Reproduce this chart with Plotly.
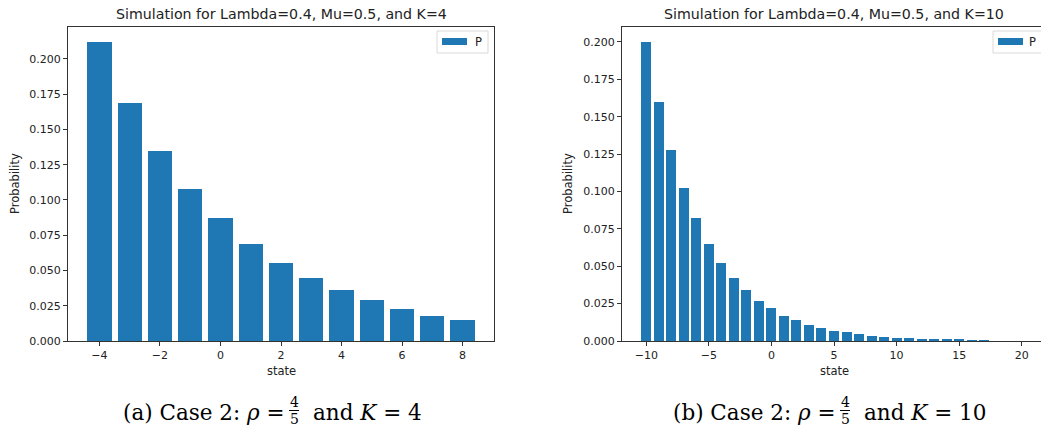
import plotly.graph_objects as go

# ---------------- data ----------------
states_k4 = list(range(-4, 9))
prob_k4 = [0.212, 0.169, 0.135, 0.108, 0.087, 0.069, 0.055, 0.045, 0.036,
           0.029, 0.023, 0.018, 0.015]

states_k10 = list(range(-10, 21))
prob_k10 = [0.200, 0.160, 0.128, 0.102, 0.082, 0.065, 0.052, 0.042, 0.034,
            0.027, 0.022, 0.017, 0.014, 0.011, 0.009, 0.007, 0.006, 0.0045,
            0.0036, 0.0029, 0.0023, 0.0018, 0.0015, 0.0012, 0.0009, 0.0008,
            0.0006, 0.0005, 0.0, 0.0, 0.0]

title_k4 = "Simulation for Lambda=0.4, Mu=0.5, and K=4"
title_k10 = "Simulation for Lambda=0.4, Mu=0.5, and K=10"
series_name = "P"
x_label = "state"
y_label = "Probability"

xticks_k4 = [-4, -2, 0, 2, 4, 6, 8]
xticks_k10 = [-10, -5, 0, 5, 10, 15, 20]
yticks_k4 = [0.0, 0.025, 0.05, 0.075, 0.1, 0.125, 0.15, 0.175, 0.2]
yticks_k10 = [0.0, 0.025, 0.05, 0.075, 0.1, 0.125, 0.15, 0.175, 0.2]

# ---------------- layout helpers ----------------
W, H = 1041, 436
BLUE = "#1f77b4"
AX = "#333333"
TXT = "#222222"
SANS = "DejaVu Sans"
SERIF = "DejaVu Serif"


def px(x):
    return x / W


def py(y):
    return 1 - y / H


def tick_text(vals):
    return [("\u2212" + str(abs(v))) if v < 0 else str(v) for v in vals]


fig = go.Figure()
fig.add_trace(go.Bar(x=states_k4, y=prob_k4, width=0.8, marker_color=BLUE,
                     marker_line_width=0, name=series_name, showlegend=False,
                     xaxis="x", yaxis="y"))
fig.add_trace(go.Bar(x=states_k10, y=prob_k10, width=0.8, marker_color=BLUE,
                     marker_line_width=0, name=series_name, showlegend=False,
                     xaxis="x2", yaxis="y2"))

axis_common = dict(showgrid=False, zeroline=False, showline=True,
                   linecolor=AX, linewidth=1, ticks="outside", ticklen=4,
                   tickcolor=AX, tickwidth=1, automargin=False,
                   tickfont=dict(family=SANS, size=11, color=TXT))

x1 = (68, 494)
x2 = (622, 1041)
ytop, ybot = 27, 341
ydom = [py(ybot), py(ytop)]

lo10 = -10.4 - 0.05 * 30.8
hi10_full = 20.4 + 0.05 * 30.8
scale10 = (1046 - 622) / (hi10_full - lo10)
hi10 = lo10 + (x2[1] - x2[0]) / scale10

fig.update_layout(
    width=W, height=H, margin=dict(l=0, r=0, t=0, b=0, autoexpand=False),
    paper_bgcolor="white", plot_bgcolor="white", bargap=0,
    xaxis=dict(domain=[px(x1[0]), px(x1[1])], anchor="y", mirror=True,
               range=[-4.4 - 0.64, 8.4 + 0.64], tickvals=xticks_k4,
               ticktext=tick_text(xticks_k4), **axis_common),
    yaxis=dict(domain=ydom, anchor="x", mirror=True,
               range=[0, max(prob_k4) * 1.05], tickvals=yticks_k4,
               ticktext=[f"{v:.3f}" for v in yticks_k4], **axis_common),
    xaxis2=dict(domain=[px(x2[0]), 1.0], anchor="y2", mirror=True,
                range=[lo10, hi10], tickvals=xticks_k10,
                ticktext=tick_text(xticks_k10), **axis_common),
    yaxis2=dict(domain=ydom, anchor="x2", mirror=False,
                range=[0, max(prob_k10) * 1.05], tickvals=yticks_k10,
                ticktext=[f"{v:.3f}" for v in yticks_k10], **axis_common),
)

ann = []
shapes = []


def text(t, x, y, size, family=SANS, xanchor="center", angle=0, color=TXT):
    ann.append(dict(text=t, x=px(x), y=py(y), xref="paper", yref="paper",
                    xanchor=xanchor, yanchor="middle", showarrow=False,
                    textangle=angle, font=dict(family=family, size=size,
                                               color=color)))


# titles
text(title_k4, 281, 14, 14.2)
text(title_k10, 834, 14, 14.2)
# axis labels
for cx in (281, 834):
    text(x_label, cx, 371, 11.5)
for lx in (15, 568):
    text(y_label, lx, 184, 11.5, angle=-90)

# legends (drawn boxes)
for (bx0, bx1, tx) in ((437, 488, 478), (993, 1046, 1032)):
    shapes.append(dict(type="rect", xref="paper", yref="paper",
                       x0=px(bx0), x1=px(bx1), y0=py(53), y1=py(31),
                       line=dict(color="#d9d9d9", width=1), fillcolor="white"))
    shapes.append(dict(type="rect", xref="paper", yref="paper",
                       x0=px(bx0 + 5), x1=px(bx0 + 30), y0=py(45), y1=py(38),
                       line=dict(width=0), fillcolor=BLUE))
    text(series_name, tx, 41.5, 11.5)

# captions
captions = [("(a) Case 2: <i>ρ</i> =", "and <i>K</i> = 4", 294),
            ("(b) Case 2: <i>ρ</i> =", "and <i>K</i> = 10", 845)]
for left, right, fx in captions:
    text(left, fx - 7, 412, 21.5, family=SERIF, xanchor="right", color="black")
    text(right, fx + 17, 412, 21.5, family=SERIF, xanchor="left", color="black")
    text("4", fx, 402, 14, family=SERIF, color="black")
    text("5", fx, 419, 14, family=SERIF, color="black")
    shapes.append(dict(type="line", xref="paper", yref="paper",
                       x0=px(fx - 5), x1=px(fx + 5), y0=py(410.5), y1=py(410.5),
                       line=dict(color="black", width=1)))

fig.update_layout(annotations=ann, shapes=shapes)
fig.write_html("out.html", config={"displayModeBar": False},
               post_script="document.body.style.margin='0';"
                           "document.body.style.padding='0';")
